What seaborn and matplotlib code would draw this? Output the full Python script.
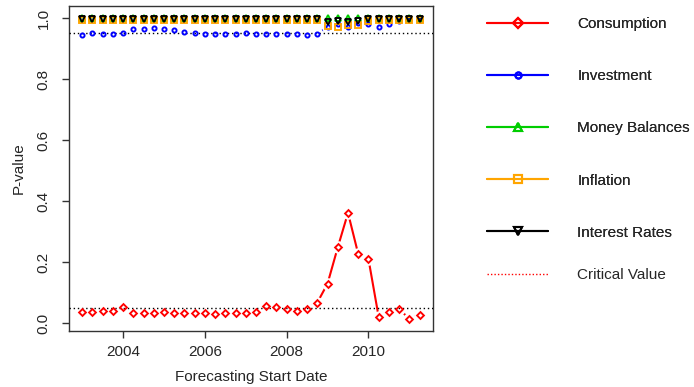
import numpy as np
import pandas as pd
import matplotlib
matplotlib.use("Agg")
import matplotlib.pyplot as plt
from matplotlib.lines import Line2D
import seaborn as sns

# Quarterly forecasting start dates, 2003Q1 .. 2011Q2
quarters = np.arange(2003.0, 2011.5, 0.25)

consumption = [0.035, 0.037, 0.040, 0.040, 0.053, 0.033, 0.033, 0.034, 0.035, 0.033,
               0.033, 0.033, 0.033, 0.030, 0.033, 0.033, 0.033, 0.035, 0.056, 0.051,
               0.046, 0.039, 0.047, 0.067, 0.129, 0.248, 0.361, 0.226, 0.210, 0.020,
               0.036, 0.046, 0.013, 0.027]
investment = [0.943, 0.951, 0.946, 0.949, 0.951, 0.963, 0.963, 0.968, 0.963, 0.960,
              0.955, 0.951, 0.948, 0.948, 0.948, 0.948, 0.950, 0.948, 0.946, 0.946,
              0.946, 0.946, 0.943, 0.946, 0.972, 0.980, 0.972, 0.985, 0.979, 0.970,
              0.979, 0.990, 0.995, 0.995]
money_balances = [1.000, 1.000, 1.000, 1.000, 1.000, 1.000, 1.000, 1.000, 1.000, 1.000,
                  1.000, 1.000, 1.000, 1.000, 1.000, 1.000, 1.000, 1.000, 1.000, 1.000,
                  1.000, 1.000, 1.000, 1.000, 1.000, 1.000, 1.000, 1.000, 1.000, 1.000,
                  1.000, 1.000, 1.000, 1.000]
inflation = [0.994, 0.994, 0.994, 0.994, 0.994, 0.994, 0.994, 0.994, 0.994, 0.994,
             0.994, 0.994, 0.994, 0.994, 0.994, 0.994, 0.994, 0.994, 0.994, 0.994,
             0.994, 0.994, 0.994, 0.994, 0.975, 0.972, 0.978, 0.978, 0.990, 0.994,
             0.994, 0.994, 0.994, 0.994]
interest_rates = [0.997, 0.997, 0.997, 0.997, 0.997, 0.997, 0.997, 0.997, 0.997, 0.997,
                  0.997, 0.997, 0.997, 0.997, 0.997, 0.997, 0.997, 0.997, 0.997, 0.997,
                  0.997, 0.997, 0.997, 0.997, 0.988, 0.990, 0.988, 0.990, 0.997, 0.997,
                  0.997, 0.997, 0.997, 0.997]
critical_values = [0.05, 0.95]

series_names = ["Consumption", "Investment", "Money Balances", "Inflation", "Interest Rates"]
series_values = [consumption, investment, money_balances, inflation, interest_rates]
series_colors = ["#FF0000", "#0000FF", "#00CD00", "#FFA500", "#000000"]
series_markers = ["D", "o", "^", "s", "v"]
series_msize = [3.5, 3.0, 5.0, 4.5, 5.0]

sns.set_style("ticks")
plt.rcParams["font.family"] = ["Liberation Sans", "DejaVu Sans"]
plt.rcParams["font.size"] = 11

TEXT = "#262626"

fig = plt.figure(figsize=(6.94, 3.87), dpi=100)
ax = fig.add_axes([0.099, 0.145, 0.525, 0.840])

df = pd.DataFrame({"date": np.tile(quarters, len(series_names)),
                   "pvalue": np.concatenate(series_values),
                   "series": np.repeat(series_names, len(quarters))})

# connecting lines
for name, col in zip(series_names, series_colors):
    sub = df[df.series == name]
    sns.lineplot(data=sub, x="date", y="pvalue", color=col, lw=1.5, ax=ax,
                 legend=False, zorder=2)

# white gaps around each point so the segments stop short of the symbols
for name in series_names:
    sub = df[df.series == name]
    ax.plot(sub["date"], sub["pvalue"], ls="none", marker="o", markersize=9.0,
            markerfacecolor="white", markeredgecolor="white", markeredgewidth=0,
            zorder=3)

# critical value lines
for cv in critical_values:
    ax.axhline(cv, color="black", lw=1, ls=(0, (1, 2)), zorder=4)

# open point symbols
for name, col, mk, ms in zip(series_names, series_colors, series_markers, series_msize):
    sub = df[df.series == name]
    ax.plot(sub["date"], sub["pvalue"], ls="none", marker=mk, markersize=ms,
            markerfacecolor="none", markeredgecolor=col, markeredgewidth=1.35,
            zorder=5)

ax.set_xlim(2002.67, 2011.58)
ax.set_ylim(-0.026, 1.04)
ax.set_xticks([2004, 2006, 2008, 2010])
ax.set_yticks([0.0, 0.2, 0.4, 0.6, 0.8, 1.0])
ax.set_yticklabels(["0.0", "0.2", "0.4", "0.6", "0.8", "1.0"])
ax.set_xlabel("Forecasting Start Date", color=TEXT, fontsize=11, labelpad=8)
ax.set_ylabel("P-value", color=TEXT, fontsize=11, labelpad=8)
ax.tick_params(axis="both", direction="out", length=5, width=1, color="#333333",
               labelcolor=TEXT, labelsize=11)
ax.tick_params(axis="x", pad=5.0)
ax.tick_params(axis="y", labelrotation=90, pad=8)
for lab in ax.get_yticklabels():
    lab.set_verticalalignment("center")
for sp in ax.spines.values():
    sp.set_visible(True)
    sp.set_color("#333333")
    sp.set_linewidth(1)

handles = [Line2D([], [], color=c, lw=1.5, marker=m, ms=s + 1.4, mfc="none", mec=c, mew=1.5)
           for c, m, s in zip(series_colors, series_markers, series_msize)]
leg1 = fig.legend(handles, series_names, loc="upper left", bbox_to_anchor=(0.693, 0.972),
                  frameon=False, handlelength=4.0, handletextpad=1.9, labelspacing=2.5,
                  fontsize=11, labelcolor=TEXT, borderaxespad=0)
leg2 = fig.legend([Line2D([], [], color="#FF0000", lw=1, ls=(0, (1, 1.5)))], ["Critical Value"],
                  loc="upper left", bbox_to_anchor=(0.693, 0.322),
                  frameon=False, handlelength=4.0, handletextpad=1.9,
                  fontsize=11, labelcolor=TEXT, borderaxespad=0)
fig.add_artist(leg1)

fig.savefig("out.png", dpi=100, facecolor="white")
